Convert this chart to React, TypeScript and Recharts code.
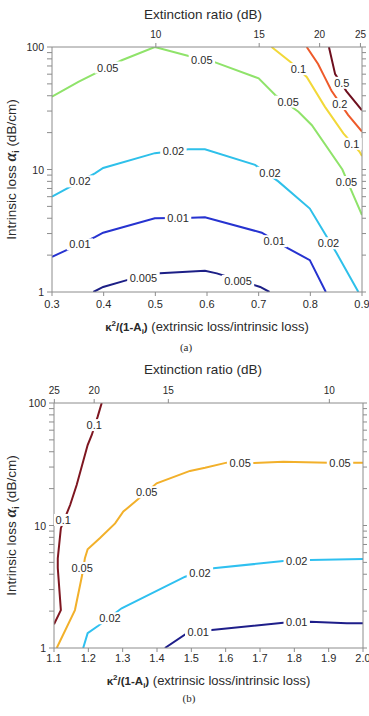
import React from "react";
import { ComposedChart, Line, Scatter, XAxis, YAxis, Label } from "recharts";

type Pt = { x: number; y: number };
type Tag = { x: number; y: number; text: string };

const pts = (arr: [number, number][]): Pt[] => arr.map(([x, y]) => ({ x, y }));
const tags = (text: string, arr: [number, number][]): Tag[] =>
  arr.map(([x, y]) => ({ x, y, text }));

// ---------- shared log axis (intrinsic loss, dB/cm) ----------
const yTicks = [1, 2, 3, 4, 5, 6, 7, 8, 9, 10, 20, 30, 40, 50, 60, 70, 80, 90, 100];
const yLabelled = [1, 10, 100];

// ---------- panel (a): kappa^2/(1-A_i) from 0.3 to 0.9 ----------
const xTicksA = [0.3, 0.4, 0.5, 0.6, 0.7, 0.8, 0.9];
const erPosA = [0.501, 0.701, 0.818, 0.897];
const erLabelsA = ["10", "15", "20", "25"];

const lineA_0005 = pts([[0.38, 1.0], [0.399, 1.1], [0.445, 1.25], [0.509, 1.42], [0.596, 1.49], [0.619, 1.42], [0.703, 1.1], [0.721, 1.0]]);
const tagsA_0005 = tags("0.005", [[0.477, 1.3], [0.66, 1.23]]);

const lineA_001 = pts([[0.3, 1.94], [0.383, 2.8], [0.399, 3.05], [0.499, 4.0], [0.57, 4.04], [0.596, 4.07], [0.706, 3.05], [0.757, 2.27], [0.799, 1.82], [0.83, 1.0]]);
const tagsA_001 = tags("0.01", [[0.354, 2.45], [0.544, 4.02], [0.73, 2.6]]);

const lineA_002 = pts([[0.3, 6.0], [0.383, 9.3], [0.399, 10.3], [0.499, 13.6], [0.564, 14.6], [0.596, 14.6], [0.693, 10.9], [0.738, 8.0], [0.799, 4.8], [0.828, 3.0], [0.851, 2.07], [0.893, 1.0]]);
const tagsA_002 = tags("0.02", [[0.354, 8.0], [0.535, 14.2], [0.722, 9.4], [0.835, 2.5]]);

const lineA_005 = pts([[0.3, 39.3], [0.351, 52], [0.435, 78], [0.499, 100], [0.57, 83.4], [0.612, 76], [0.7, 55.5], [0.732, 40.6], [0.777, 29.6], [0.803, 23], [0.862, 10], [0.883, 6.2], [0.9, 4.25]]);
const tagsA_005 = tags("0.05", [[0.408, 68], [0.59, 79], [0.757, 35.8], [0.87, 7.9]]);

const lineA_01 = pts([[0.725, 100], [0.761, 75.8], [0.793, 57], [0.828, 32.6], [0.864, 19.7], [0.895, 14], [0.9, 12.9]]);
const tagsA_01 = tags("0.1", [[0.777, 66], [0.88, 16.2]]);

const lineA_02 = pts([[0.793, 100], [0.815, 72.6], [0.828, 56.5], [0.841, 43.9], [0.873, 27.9], [0.9, 20.4]]);
const tagsA_02 = tags("0.2", [[0.857, 34.2]]);

const lineA_05 = pts([[0.836, 100], [0.848, 60], [0.87, 43.5], [0.9, 30.4]]);
const tagsA_05 = tags("0.5", [[0.861, 51]]);

// ---------- panel (b): kappa^2/(1-A_i) from 1.1 to 2.0 ----------
const xTicksB = [1.1, 1.2, 1.3, 1.4, 1.5, 1.6, 1.7, 1.8, 1.9, 2.0];
const erPosB = [1.101, 1.217, 1.433, 1.902];
const erLabelsB = ["25", "20", "15", "10"];

const lineB_001 = pts([[1.423, 1.0], [1.482, 1.29], [1.559, 1.4], [1.768, 1.61], [1.846, 1.64], [1.953, 1.59], [2.0, 1.59]]);
const tagsB_001 = tags("0.01", [[1.52, 1.36], [1.807, 1.62]]);

const lineB_002 = pts([[1.185, 1.0], [1.198, 1.32], [1.229, 1.52], [1.297, 2.11], [1.482, 3.82], [1.564, 4.47], [1.768, 5.13], [1.846, 5.23], [2.0, 5.33]]);
const tagsB_002 = tags("0.02", [[1.263, 1.75], [1.525, 4.1], [1.807, 5.15]]);

const lineB_005 = pts([[1.108, 1.0], [1.161, 2.04], [1.182, 3.94], [1.19, 5.4], [1.198, 6.4], [1.234, 7.9], [1.278, 10.4], [1.302, 13], [1.336, 15.6], [1.399, 22.1], [1.496, 27.9], [1.54, 29.6], [1.603, 32.6], [1.676, 32.3], [1.768, 33.2], [1.899, 32.6], [2.0, 32.6]]);
const tagsB_005 = tags("0.05", [[1.182, 4.5], [1.37, 18.7], [1.642, 32.4], [1.933, 32.6]]);

const lineB_01 = pts([[1.239, 100], [1.227, 77], [1.21, 54.8], [1.198, 45.4], [1.166, 21.4], [1.147, 14.7], [1.12, 9.5], [1.111, 5.4], [1.111, 4.5], [1.12, 2.04], [1.1, 1.56]]);
const tagsB_01 = tags("0.1", [[1.217, 66], [1.127, 11.1]]);

// ---------- drawing ----------
const SANS = "'Liberation Sans', Arial, Helvetica, sans-serif";
const SERIF = "'Liberation Serif', 'Times New Roman', serif";
const AXIS = "#8c8c8c";
const TEXT = "#2a2a2a";

type Contour = { color: string; line: Pt[]; labels: Tag[] };

type Geo = {
  height: number;
  left: number;
  right: number;
  top: number;
  bottom: number;
  titleUp: number;
  erUp: number;
  tickDown: number;
  xTitleDown: number;
  captionDown: number;
  captionX: number;
};

const TagShape = (p: any) => {
  const { cx, cy, payload } = p;
  if (cx == null || cy == null || !payload) return <g />;
  const text: string = payload.text;
  const fs = 11;
  let em = 0;
  for (const ch of text) em += ch === "." ? 0.278 : 0.556;
  const w = em * fs + 5;
  return (
    <g>
      <rect x={cx - w / 2} y={cy - 6} width={w} height={12} fill="#ffffff" />
      <text x={cx} y={cy + 4} textAnchor="middle" fontFamily={SANS} fontSize={fs} fill={TEXT}>
        {text}
      </text>
    </g>
  );
};

function Panel(props: {
  geo: Geo;
  xDomain: [number, number];
  xTicks: number[];
  erPos: number[];
  erLabels: string[];
  contours: Contour[];
  caption: string;
}) {
  const { geo, xDomain, xTicks, erPos, erLabels, contours, caption } = props;
  const W = 369;
  const plotL = geo.left;
  const plotR = W - geo.right;
  const plotT = geo.top;
  const plotB = geo.height - geo.bottom;
  const midX = (plotL + plotR) / 2;
  const midY = (plotT + plotB) / 2;

  const LeftTick = (p: any) => {
    const { x, y, payload } = p;
    const v = payload.value;
    return (
      <g>
        <line x1={x - 5} x2={x} y1={y} y2={y} stroke={AXIS} />
        {yLabelled.includes(v) && (
          <text x={x - 8} y={y + 4} textAnchor="end" fontFamily={SANS} fontSize={10.5} fill={TEXT}>
            {v}
          </text>
        )}
      </g>
    );
  };
  const RightTick = (p: any) => {
    const { x, y } = p;
    return <line x1={x} x2={x + 4} y1={y} y2={y} stroke={AXIS} />;
  };
  const BottomTick = (p: any) => {
    const { x, y, payload } = p;
    return (
      <g>
        <line x1={x} x2={x} y1={y} y2={y + 4} stroke={AXIS} />
        <text x={x} y={y + geo.tickDown} textAnchor="middle" fontFamily={SANS} fontSize={11} fill={TEXT}>
          {Number(payload.value).toFixed(1)}
        </text>
      </g>
    );
  };
  const TopTick = (p: any) => {
    const { x, y, payload } = p;
    const i = erPos.indexOf(payload.value);
    return (
      <g>
        <line x1={x} x2={x} y1={y - 4} y2={y} stroke={AXIS} />
        <text x={x} y={y - geo.erUp} textAnchor="middle" fontFamily={SANS} fontSize={10} fill={TEXT}>
          {i >= 0 ? erLabels[i] : ""}
        </text>
      </g>
    );
  };

  const topTitle = () => (
    <text x={203} y={plotT - geo.titleUp} textAnchor="middle" fontFamily={SANS} fontSize={13.5} fill={TEXT}>
      Extinction ratio (dB)
    </text>
  );
  const bottomTitle = () => (
    <g>
      <text x={midX} y={plotB + geo.xTitleDown} textAnchor="middle" fontFamily={SANS} fontSize={13} fill={TEXT}>
        <tspan fontWeight="bold" fontSize={11.5}>κ</tspan>
        <tspan fontWeight="bold" fontSize={8} dy={-5}>2</tspan>
        <tspan fontWeight="bold" fontSize={11.5} dy={5}>/(1-A</tspan>
        <tspan fontWeight="bold" fontSize={8} dy={3}>i</tspan>
        <tspan fontWeight="bold" fontSize={11.5} dy={-3}>)</tspan>
        <tspan>{"  (extrinsic loss/intrinsic loss)"}</tspan>
      </text>
      <text x={geo.captionX} y={plotB + geo.captionDown} textAnchor="middle" fontFamily={SERIF} fontSize={11} fill={TEXT}>
        {caption}
      </text>
    </g>
  );
  const leftTitle = () => {
    const cx = 16;
    const cy = midY;
    return (
      <text
        x={cx}
        y={cy}
        transform={`rotate(-90 ${cx} ${cy})`}
        textAnchor="middle"
        fontFamily={SANS}
        fontSize={13.5}
        fill={TEXT}
      >
        <tspan>{"Intrinsic loss "}</tspan>
        <tspan fontFamily={SERIF} fontWeight="bold" fontStyle="italic" fontSize={16}>α</tspan>
        <tspan fontWeight="bold" fontSize={8.5} dy={3}>i</tspan>
        <tspan dy={-3}>{"  (dB/cm)"}</tspan>
      </text>
    );
  };

  return (
    <ComposedChart
      width={W}
      height={geo.height}
      margin={{ top: 0, right: 0, bottom: 0, left: 0 }}
      style={{ display: "block" }}
    >
      <XAxis
        xAxisId="bottom"
        type="number"
        dataKey="x"
        domain={xDomain}
        allowDataOverflow
        ticks={xTicks}
        interval={0}
        height={geo.bottom}
        orientation="bottom"
        axisLine={{ stroke: AXIS }}
        tickLine={false}
        tickSize={0}
        tickMargin={0}
        tick={BottomTick}
      >
        <Label content={bottomTitle} />
      </XAxis>
      <XAxis
        xAxisId="top"
        type="number"
        dataKey="x"
        domain={xDomain}
        allowDataOverflow
        ticks={erPos}
        interval={0}
        height={geo.top}
        orientation="top"
        axisLine={{ stroke: AXIS }}
        tickLine={false}
        tickSize={0}
        tickMargin={0}
        tick={TopTick}
      >
        <Label content={topTitle} />
      </XAxis>
      <YAxis
        yAxisId="left"
        type="number"
        dataKey="y"
        scale="log"
        domain={[1, 100]}
        allowDataOverflow
        ticks={yTicks}
        interval={0}
        width={geo.left}
        orientation="left"
        axisLine={{ stroke: AXIS }}
        tickLine={false}
        tickSize={0}
        tickMargin={0}
        tick={LeftTick}
      >
        <Label content={leftTitle} />
      </YAxis>
      <YAxis
        yAxisId="right"
        type="number"
        dataKey="y"
        scale="log"
        domain={[1, 100]}
        allowDataOverflow
        ticks={yTicks}
        interval={0}
        width={geo.right}
        orientation="right"
        axisLine={{ stroke: AXIS }}
        tickLine={false}
        tickSize={0}
        tickMargin={0}
        tick={RightTick}
      />
      {contours.map((c, i) => (
        <Line
          key={`l${i}`}
          xAxisId="bottom"
          yAxisId="left"
          data={c.line}
          dataKey="y"
          type="linear"
          stroke={c.color}
          strokeWidth={2}
          dot={false}
          activeDot={false}
          isAnimationActive={false}
        />
      ))}
      {contours.map((c, i) => (
        <Scatter
          key={`s${i}`}
          xAxisId="bottom"
          yAxisId="left"
          data={c.labels}
          dataKey="y"
          shape={TagShape}
          isAnimationActive={false}
        />
      ))}
    </ComposedChart>
  );
}

const contoursA: Contour[] = [
  { color: "#1c1f86", line: lineA_0005, labels: tagsA_0005 },
  { color: "#2633d0", line: lineA_001, labels: tagsA_001 },
  { color: "#2ec0ea", line: lineA_002, labels: tagsA_002 },
  { color: "#8fe36a", line: lineA_005, labels: tagsA_005 },
  { color: "#f2d838", line: lineA_01, labels: tagsA_01 },
  { color: "#ee5a2a", line: lineA_02, labels: tagsA_02 },
  { color: "#6e0f1e", line: lineA_05, labels: tagsA_05 },
];

const contoursB: Contour[] = [
  { color: "#1e1e8a", line: lineB_001, labels: tagsB_001 },
  { color: "#2fc0f0", line: lineB_002, labels: tagsB_002 },
  { color: "#f2b02a", line: lineB_005, labels: tagsB_005 },
  { color: "#7e1620", line: lineB_01, labels: tagsB_01 },
];

const geoA: Geo = {
  height: 358,
  left: 52,
  right: 7,
  top: 47,
  bottom: 66,
  titleUp: 28,
  erUp: 9,
  tickDown: 16,
  xTitleDown: 39,
  captionDown: 59,
  captionX: 186,
};

const geoB: Geo = {
  height: 361,
  left: 54,
  right: 6,
  top: 48,
  bottom: 68,
  titleUp: 29,
  erUp: 9,
  tickDown: 14,
  xTitleDown: 37,
  captionDown: 54,
  captionX: 189,
};

export default function App() {
  return (
    <div style={{ position: "absolute", left: 0, top: 0, width: 369, height: 716, background: "#fff" }}>
      <div style={{ position: "absolute", left: 0, top: 0 }}>
        <Panel
          geo={geoA}
          xDomain={[0.3, 0.9]}
          xTicks={xTicksA}
          erPos={erPosA}
          erLabels={erLabelsA}
          contours={contoursA}
          caption="(a)"
        />
      </div>
      <div style={{ position: "absolute", left: 0, top: 355 }}>
        <Panel
          geo={geoB}
          xDomain={[1.1, 2.0]}
          xTicks={xTicksB}
          erPos={erPosB}
          erLabels={erLabelsB}
          contours={contoursB}
          caption="(b)"
        />
      </div>
    </div>
  );
}
